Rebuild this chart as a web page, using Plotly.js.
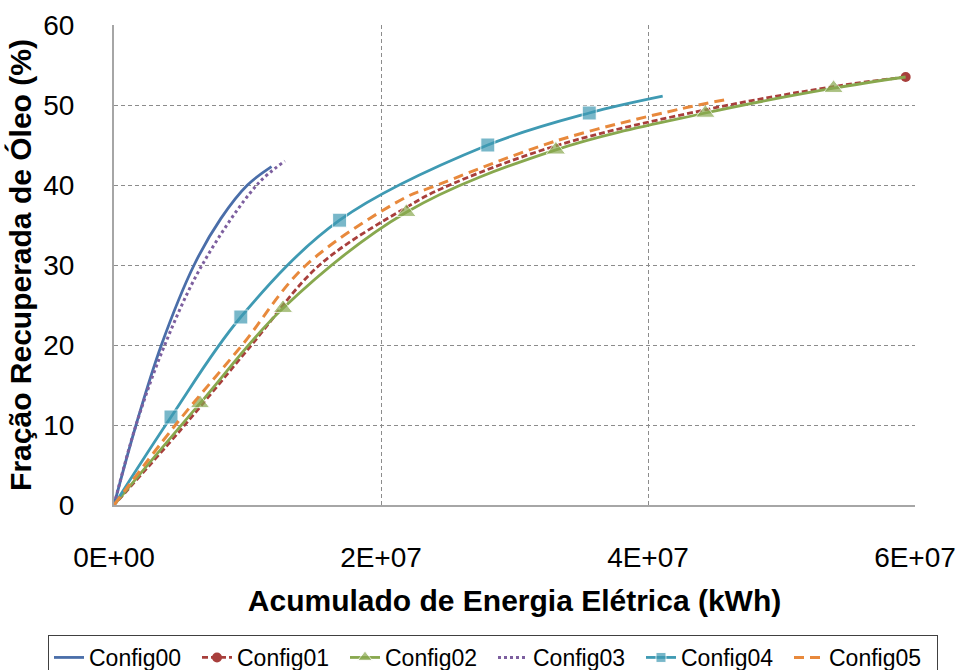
<!DOCTYPE html>
<html>
<head>
<meta charset="utf-8">
<script src="https://cdn.plot.ly/plotly-3.0.1.min.js"></script>
<style>html,body{margin:0;padding:0;background:#fff;}#chart{width:962px;height:670px;}</style>
</head>
<body>
<div id="chart"></div>
<script>
// ---- data (x in kWh, y in %) ----
const seriesNames = ['Config00','Config01','Config02','Config03','Config04','Config05'];

const x00 = [0, 1.65e6, 3.55e6, 6.0e6, 8.0e6, 10.0e6, 11.8e6];
const y00 = [0, 10, 20, 30, 35.8, 40, 42.3];

const x01 = [0, 5.0e6, 10.3e6, 15.4e6, 21.9e6, 24.6e6, 33.1e6, 44.3e6, 53.9e6, 59.3e6];
const y01 = [0, 9.4, 20, 30, 37.2, 39.6, 44.9, 49.4, 52.3, 53.5];

const x02 = [0, 6.44e6, 12.66e6, 21.9e6, 33.1e6, 44.3e6, 53.9e6, 59.3e6];
const y02 = [0, 12.7, 24.6, 36.6, 44.4, 49.0, 52.1, 53.5];

const x03 = [0, 1.65e6, 3.8e6, 6.6e6, 10.7e6, 12.8e6];
const y03 = [0, 10, 20, 30, 40, 43.0];

const x04 = [0, 4.27e6, 9.5e6, 16.9e6, 28.0e6, 35.6e6, 41.1e6];
const y04 = [0, 11.0, 23.5, 35.6, 45.0, 49.0, 51.1];

const x05 = [0, 4.6e6, 9.6e6, 14.4e6, 21.9e6, 23.6e6, 33.1e6, 42.4e6, 45.9e6];
const y05 = [0, 10, 20, 30, 38.5, 39.6, 45.5, 49.5, 50.7];

const xTickVals = [0, 2e7, 4e7, 6e7];
const xTickText = ['0E+00', '2E+07', '4E+07', '6E+07'];
const yTickVals = [0, 10, 20, 30, 40, 50, 60];

const colors = ['#4A6EA9', '#A83F3C', '#88A84E', '#7D5F9F', '#3F9AB3', '#E8893C'];
const FONT = 'Arial, "Liberation Sans", sans-serif';

// markers only on interior points (first/last hidden)
function innerSizes(n, s) { return Array.from({length: n}, (_, i) => (i === 0 || i === n - 1) ? 0 : s); }

// Config01: marker only at its last point -> draw reversed so legend picks the visible one
const x01r = x01.slice().reverse();
const y01r = y01.slice().reverse();
const c01 = x01r.map((_, i) => i === 0 ? colors[1] : 'rgba(0,0,0,0)');

const traces = [
  {name: seriesNames[0], x: x00, y: y00, mode: 'lines',
   line: {color: colors[0], width: 2.8, shape: 'spline'}},
  {name: seriesNames[1], x: x01r, y: y01r, mode: 'lines+markers',
   line: {color: colors[1], width: 2.8, dash: '6px,3px', shape: 'spline'},
   marker: {symbol: 'circle', size: 10, color: c01}},
  {name: seriesNames[2], x: x02, y: y02, mode: 'lines+markers',
   line: {color: colors[2], width: 2.8, shape: 'spline'},
   marker: {symbol: 'triangle-up', size: innerSizes(x02.length, 17), color: colors[2]}},
  {name: seriesNames[3], x: x03, y: y03, mode: 'lines',
   line: {color: colors[3], width: 3, dash: 'dot', shape: 'spline'}},
  {name: seriesNames[4], x: x04, y: y04, mode: 'lines+markers',
   line: {color: colors[4], width: 2.8, shape: 'spline'},
   marker: {symbol: 'square', size: innerSizes(x04.length, 14), color: colors[4]}},
  {name: seriesNames[5], x: x05, y: y05, mode: 'lines',
   line: {color: colors[5], width: 3, dash: '10px,6px', shape: 'spline'}}
];

const layout = {
  width: 962, height: 670,
  margin: {l: 114, r: 47, t: 25, b: 165, autoexpand: false},
  paper_bgcolor: '#fff', plot_bgcolor: '#fff',
  font: {family: FONT, color: '#000'},
  showlegend: true,
  legend: {
    orientation: 'h', x: -0.0824, xanchor: 'left', y: -0.2708, yanchor: 'top',
    font: {family: FONT, size: 23, color: '#000'},
    bordercolor: '#404040', borderwidth: 1, bgcolor: '#fff',
    itemwidth: 30, entrywidth: 103, entrywidthmode: 'pixels', tracegroupgap: 0
  },
  xaxis: {
    range: [0, 6e7], tickvals: xTickVals, ticktext: xTickText,
    showgrid: true, gridcolor: '#8c8c8c', griddash: '4px,3px', gridwidth: 1,
    showline: true, linecolor: '#a6a6a6', linewidth: 2, zeroline: false,
    ticks: '', ticklabelstandoff: 26,
    tickfont: {family: FONT, size: 28, color: '#000'},
    title: {text: 'Acumulado de Energia Elétrica (kWh)', standoff: 18,
            font: {family: FONT, size: 30, color: '#000', weight: 'bold'}},
    automargin: false
  },
  yaxis: {
    range: [0, 60], tickvals: yTickVals,
    showgrid: true, gridcolor: '#8c8c8c', griddash: '4px,3px', gridwidth: 1,
    showline: true, linecolor: '#a6a6a6', linewidth: 2, zeroline: false,
    ticks: '', ticklabelstandoff: 32,
    tickfont: {family: FONT, size: 28, color: '#000'},
    title: {text: 'Fração Recuperada de Óleo (%)', standoff: 3,
            font: {family: FONT, size: 30, color: '#000', weight: 'bold'}},
    automargin: false
  }
};

Plotly.newPlot('chart', traces, layout, {displayModeBar: false, staticPlot: true});
</script>
</body>
</html>
